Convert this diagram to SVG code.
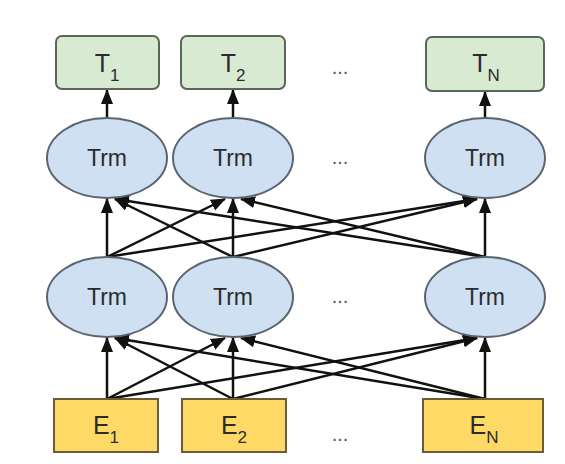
<svg xmlns="http://www.w3.org/2000/svg" width="565" height="464" viewBox="0 0 565 464">
<style>
.t{fill:#d9ead3;stroke:#5b6659;stroke-width:2}
.e{fill:#ffd966;stroke:#6a5c36;stroke-width:2}
.m{fill:#cfe0f3;stroke:#5b6570;stroke-width:2}
.lbl{font-family:"Liberation Sans",Arial,sans-serif;fill:#2b2b2b;text-anchor:middle}
.big{font-size:25px}
.sub{font-size:17px}
.trm{font-size:23px}
.dots{font-family:"Liberation Sans",Arial,sans-serif;font-size:20px;fill:#555;text-anchor:middle}
.c line{stroke:#111;stroke-width:2.5;marker-end:url(#ah)}
</style>
<defs>
<marker id="ah" markerUnits="userSpaceOnUse" markerWidth="15" markerHeight="15" viewBox="0 0 15 15" refX="14" refY="7.5" orient="auto">
<path d="M0,1.5 L15,7.5 L0,13.5 Z" fill="#111"/>
</marker>
</defs>
<rect width="565" height="464" fill="#fff"/>
<g class="c" id="connectors">
<line x1="107" y1="118" x2="107" y2="90"/>
<line x1="233" y1="118" x2="233" y2="90"/>
<line x1="485" y1="118" x2="485" y2="92"/>
<line x1="107" y1="257" x2="107" y2="199"/>
<line x1="107" y1="257" x2="225" y2="199"/>
<line x1="107" y1="257" x2="477" y2="199"/>
<line x1="233" y1="257" x2="115" y2="199"/>
<line x1="233" y1="257" x2="233" y2="199"/>
<line x1="233" y1="257" x2="477" y2="199"/>
<line x1="485" y1="257" x2="115" y2="199"/>
<line x1="485" y1="257" x2="241" y2="199"/>
<line x1="485" y1="257" x2="485" y2="199"/>
<line x1="107" y1="399" x2="107" y2="338"/>
<line x1="107" y1="399" x2="225" y2="338"/>
<line x1="107" y1="399" x2="477" y2="338"/>
<line x1="233" y1="399" x2="115" y2="338"/>
<line x1="233" y1="399" x2="233" y2="338"/>
<line x1="233" y1="399" x2="477" y2="338"/>
<line x1="485" y1="399" x2="115" y2="338"/>
<line x1="485" y1="399" x2="241" y2="338"/>
<line x1="485" y1="399" x2="485" y2="338"/>
</g>
<g id="T1"><rect class="t" x="56" y="36" width="103" height="53" rx="6"/><text class="lbl" x="107" y="72"><tspan class="big">T</tspan><tspan class="sub" dy="9">1</tspan></text></g>
<g id="T2"><rect class="t" x="181" y="36" width="104" height="53" rx="6"/><text class="lbl" x="233" y="72"><tspan class="big">T</tspan><tspan class="sub" dy="9">2</tspan></text></g>
<g id="TN"><rect class="t" x="426" y="37" width="118" height="54" rx="6"/><text class="lbl" x="486" y="72"><tspan class="big">T</tspan><tspan class="sub" dy="9">N</tspan></text></g>
<text class="dots" x="340" y="74">...</text>
<g id="Trm_top_1"><ellipse class="m" cx="107" cy="158" rx="60" ry="40"/><text class="lbl trm" x="107" y="166">Trm</text></g>
<g id="Trm_top_2"><ellipse class="m" cx="233" cy="158" rx="60" ry="40"/><text class="lbl trm" x="233" y="166">Trm</text></g>
<g id="Trm_top_N"><ellipse class="m" cx="485" cy="158" rx="60" ry="40"/><text class="lbl trm" x="485" y="166">Trm</text></g>
<text class="dots" x="340" y="164">...</text>
<g id="Trm_bot_1"><ellipse class="m" cx="107" cy="297" rx="60" ry="40"/><text class="lbl trm" x="107" y="305">Trm</text></g>
<g id="Trm_bot_2"><ellipse class="m" cx="233" cy="297" rx="60" ry="40"/><text class="lbl trm" x="233" y="305">Trm</text></g>
<g id="Trm_bot_N"><ellipse class="m" cx="485" cy="297" rx="60" ry="40"/><text class="lbl trm" x="485" y="305">Trm</text></g>
<text class="dots" x="340" y="303">...</text>
<g id="E1"><rect class="e" x="54" y="399" width="104" height="53"/><text class="lbl" x="106" y="434"><tspan class="big">E</tspan><tspan class="sub" dy="9">1</tspan></text></g>
<g id="E2"><rect class="e" x="182" y="399" width="104" height="53"/><text class="lbl" x="234" y="434"><tspan class="big">E</tspan><tspan class="sub" dy="9">2</tspan></text></g>
<g id="EN"><rect class="e" x="423" y="399" width="120" height="53"/><text class="lbl" x="484" y="434"><tspan class="big">E</tspan><tspan class="sub" dy="9">N</tspan></text></g>
<text class="dots" x="340" y="441">...</text>
</svg>
